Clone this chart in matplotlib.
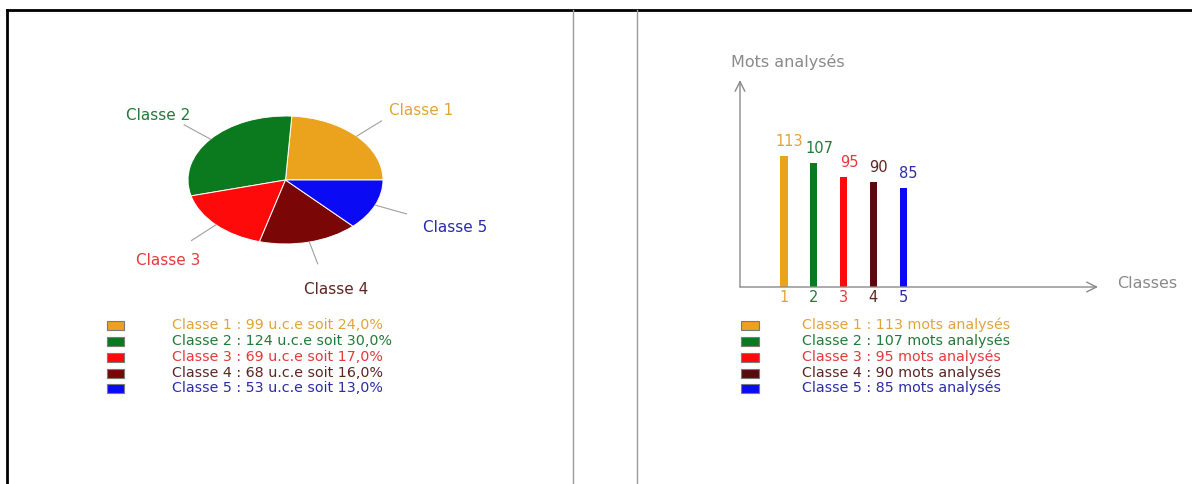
import numpy as np
import matplotlib
matplotlib.use("Agg")
import matplotlib.pyplot as plt
from matplotlib.lines import Line2D
from matplotlib.patches import Rectangle

# donnees
classes = ["Classe 1", "Classe 2", "Classe 3", "Classe 4", "Classe 5"]
uce = [99, 124, 69, 68, 53]
uce_pct = ["24,0%", "30,0%", "17,0%", "16,0%", "13,0%"]
mots = [113, 107, 95, 90, 85]

slice_colors = ["#EBA21C", "#0B7A1F", "#FF0A0A", "#7A0606", "#0A0AF5"]
bar_colors = ["#EBA21C", "#0B7A1F", "#FF0A0A", "#5A0A0E", "#0A0AF5"]
text_colors = ["#E3A33C", "#237A38", "#E33A3A", "#5E2424", "#2B2BA8"]
grey = "#8A8A8A"

plt.rcParams['font.family'] = ['DejaVu Sans']

W, H = 1192, 484
fig = plt.figure(figsize=(W / 100, H / 100), dpi=100)
fig.patch.set_facecolor("white")


def px(x, y):
    # pixel (depuis le haut) -> coords figure
    return x / W, 1 - y / H


def rect(x0, y0, x1, y1):
    return [x0 / W, 1 - y1 / H, (x1 - x0) / W, (y1 - y0) / H]


# cadre
fig.add_artist(Line2D([7 / W, 1], [1 - 10 / H] * 2, color="black", lw=2, transform=fig.transFigure))
fig.add_artist(Line2D([7 / W] * 2, [0, 1 - 10 / H], color="black", lw=2, transform=fig.transFigure))
for xl in (573, 637):
    fig.add_artist(Line2D([xl / W] * 2, [0, 1 - 10 / H], color="#9A9A9A", lw=1, transform=fig.transFigure))

# ---- camembert (ellipse) ----
ax1 = fig.add_axes(rect(188, 116, 383, 244))
wedges, _ = ax1.pie(uce, colors=slice_colors, startangle=0, counterclock=True,
                    radius=1, wedgeprops=dict(edgecolor="white", linewidth=0.7))
ax1.set_aspect("auto")
ax1.set_xlim(-1, 1)
ax1.set_ylim(-1, 1)
ax1.axis("off")

for i, w in enumerate(wedges):
    a = np.deg2rad((w.theta1 + w.theta2) / 2)
    c, s = np.cos(a), np.sin(a)
    ax1.plot([c * 1.0, c * 1.35], [s * 1.0, s * 1.35], color="#A0A0A0", lw=0.8, clip_on=False)
    ax1.text(c * 1.8 + 0.08, s * 1.7 - 0.07, classes[i], ha="center", va="center",
             fontsize=11, color=text_colors[i])

# legende gauche
row_y = [325, 341, 357, 373, 388]
for i in range(5):
    y = row_y[i]
    x0, y0 = px(107, y + 4.5)
    fig.add_artist(Rectangle((x0, y0), 17 / W, 9 / H, transform=fig.transFigure,
                             facecolor=slice_colors[i], edgecolor="#7A7A7A", lw=0.8))
    fig.text(*px(172, y), f"{classes[i]} : {uce[i]} u.c.e soit {uce_pct[i]}",
             ha="left", va="center", fontsize=10.3, color=text_colors[i])

# ---- histogramme ----
ax2 = fig.add_axes(rect(740, 80, 1098, 287))
xpos = np.arange(1, 6)
ax2.bar(xpos, mots, width=0.24, color=bar_colors)
ax2.set_xlim(-0.48, 11.55)
ax2.set_ylim(0, 178)
for sp in ax2.spines.values():
    sp.set_visible(False)
ax2.set_yticks([])
ax2.set_xticks(xpos)
ax2.set_xticklabels([str(v) for v in xpos], fontsize=10.5)
for lab, col in zip(ax2.get_xticklabels(), text_colors):
    lab.set_color(col)
ax2.tick_params(axis="x", length=0, pad=2)

arrow = dict(arrowstyle="->,head_length=0.7,head_width=0.35", color=grey, lw=1,
             shrinkA=0, shrinkB=0)
ax2.annotate("", xy=(0, 1), xytext=(0, 0), xycoords="axes fraction", arrowprops=arrow)
ax2.annotate("", xy=(1, 0), xytext=(0, 0), xycoords="axes fraction", arrowprops=arrow)

for x, v, col in zip(xpos, mots, text_colors):
    ax2.annotate(str(v), xy=(x, v), xytext=(4, 5), textcoords="offset points",
                 ha="center", va="bottom", fontsize=10.5, color=col)

fig.text(*px(731, 62), "Mots analysés", ha="left", va="center", fontsize=11.5, color=grey)
fig.text(*px(1117, 284), "Classes", ha="left", va="center", fontsize=11.5, color=grey)

# legende droite
for i in range(5):
    y = row_y[i]
    x0, y0 = px(741, y + 4.5)
    fig.add_artist(Rectangle((x0, y0), 18 / W, 9 / H, transform=fig.transFigure,
                             facecolor=bar_colors[i], edgecolor="#7A7A7A", lw=0.8))
    fig.text(*px(802, y), f"{classes[i]} : {mots[i]} mots analysés",
             ha="left", va="center", fontsize=10.3, color=text_colors[i])

fig.savefig("out.png", dpi=100, facecolor="white")
